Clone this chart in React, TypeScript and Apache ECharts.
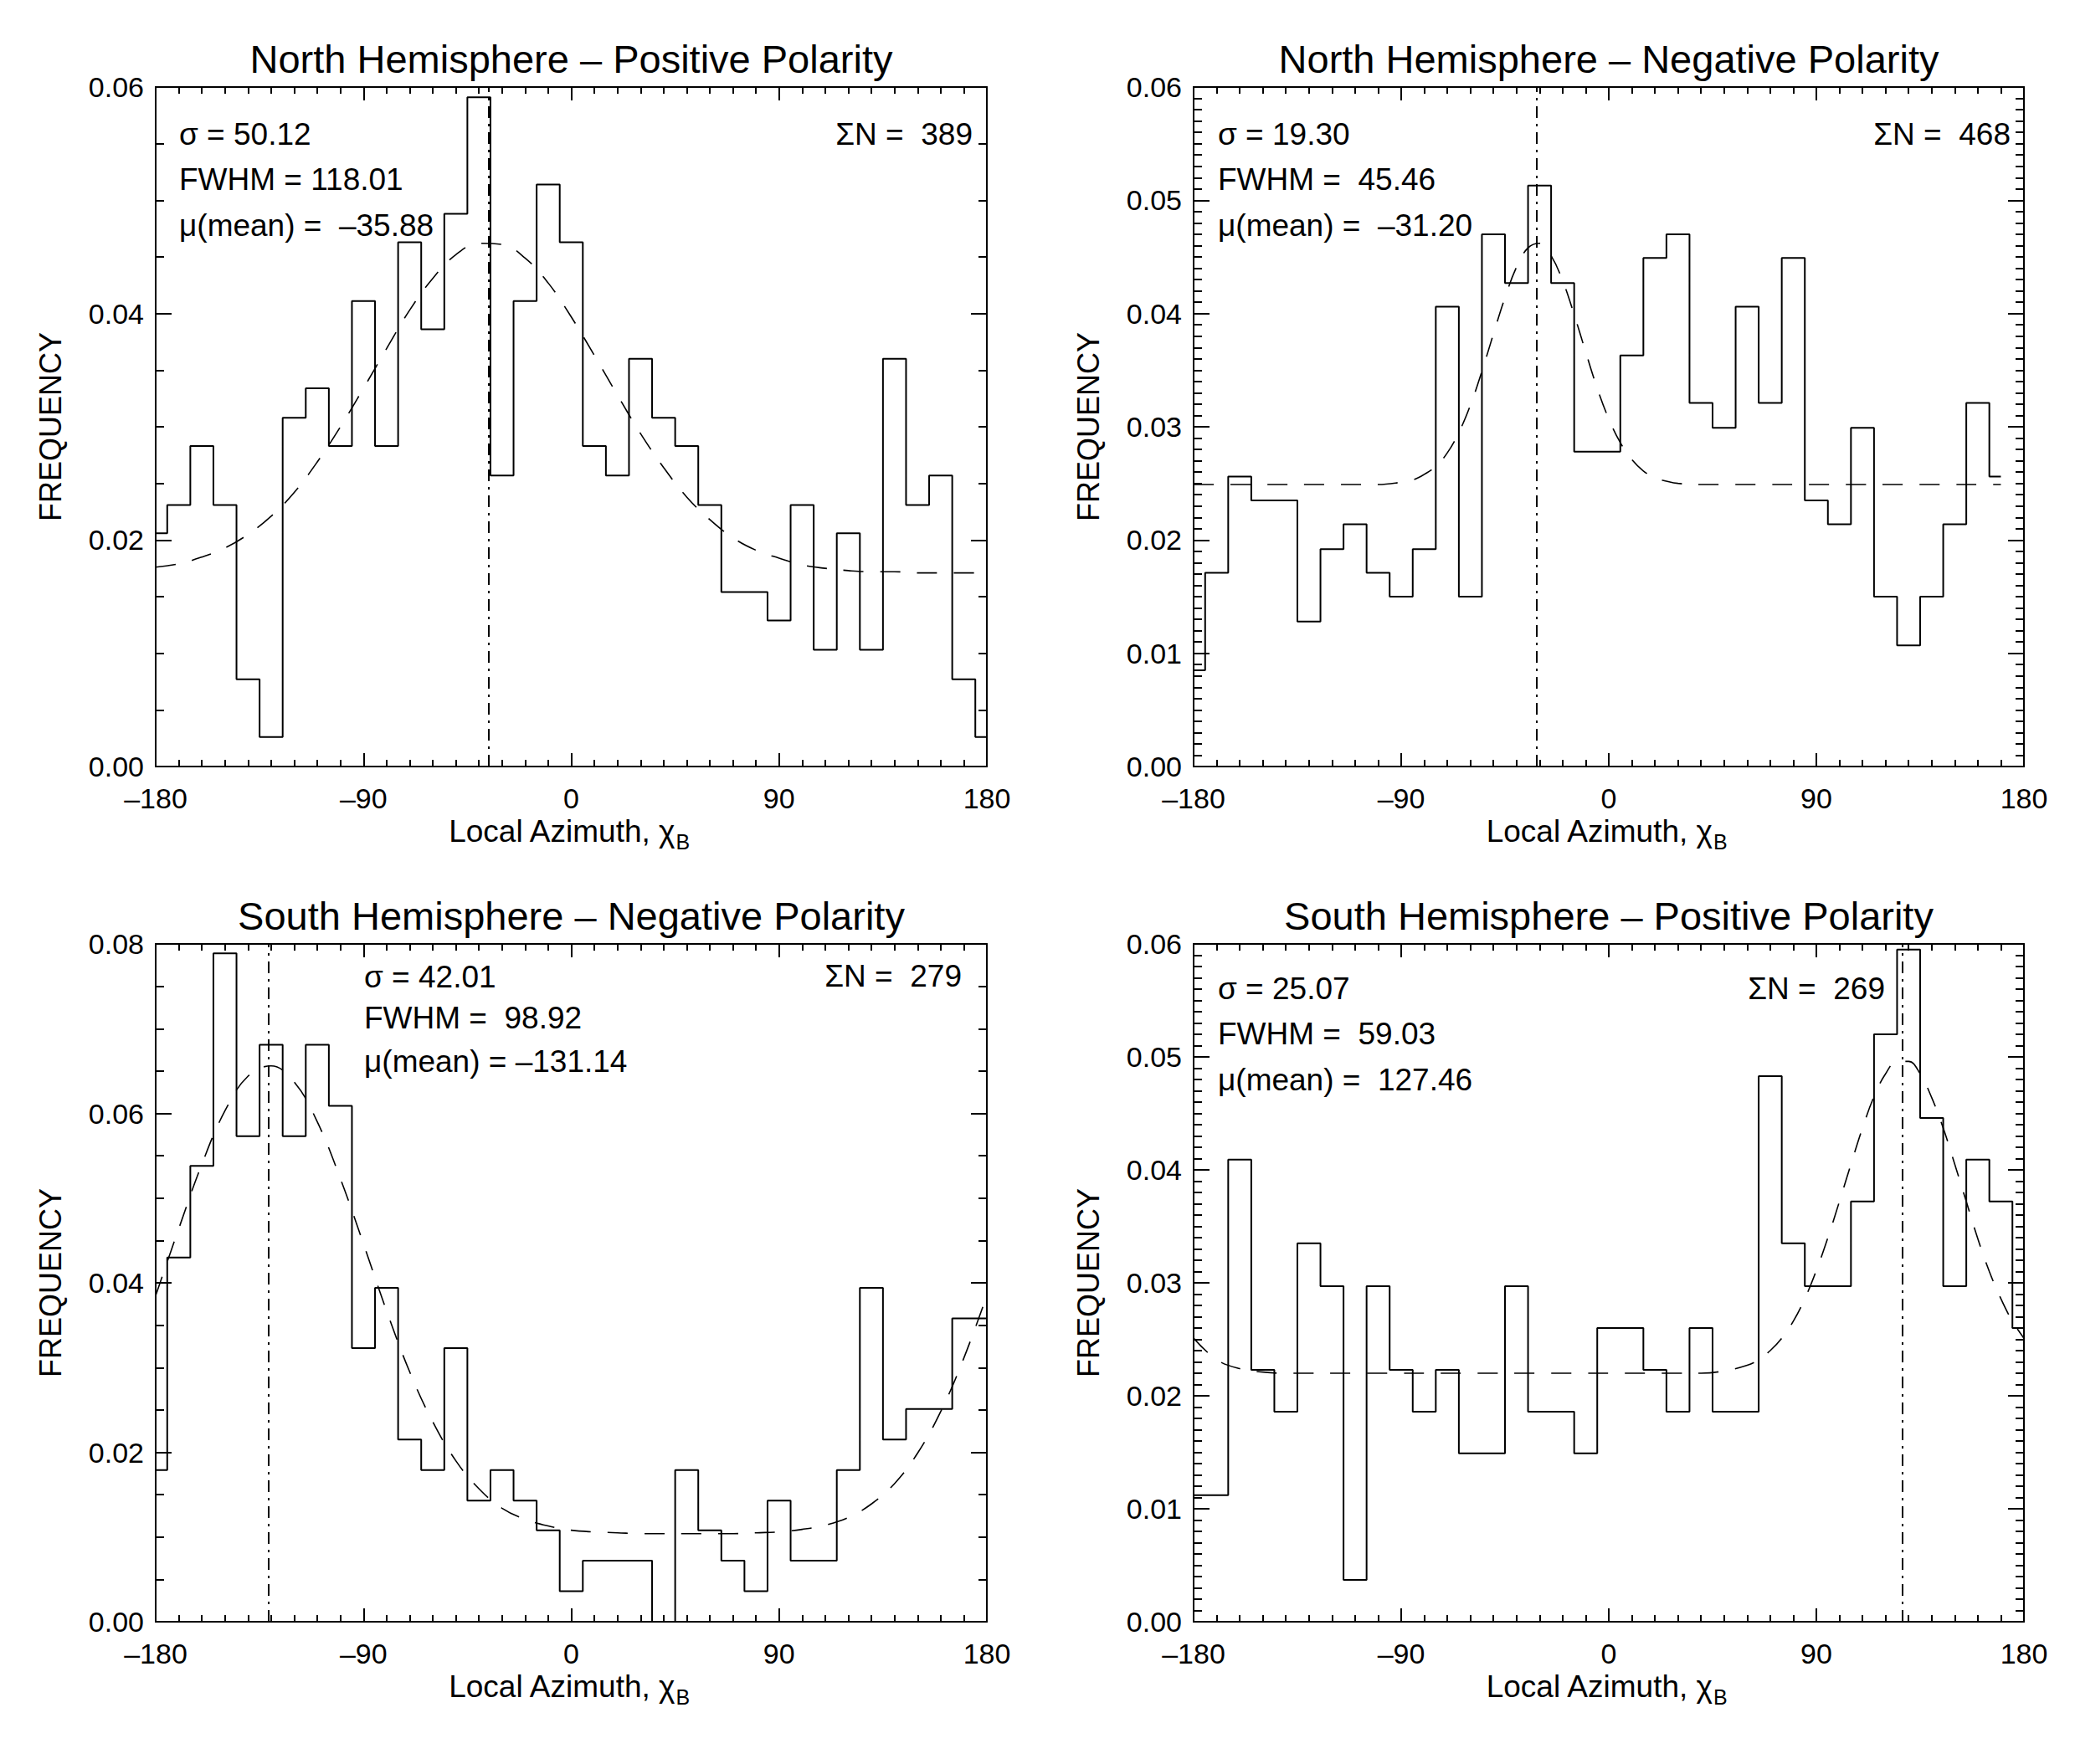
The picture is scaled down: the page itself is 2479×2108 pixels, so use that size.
import React, { useEffect, useRef } from "react";
import * as echarts from "echarts";

// ---------------- DATA ----------------
// histogram bin centres (deg)
const binCenters = [-180,-170,-160,-150,-140,-130,-120,-110,-100,-90,-80,-70,-60,-50,-40,-30,-20,-10,0,10,20,30,40,50,60,70,80,90,100,110,120,130,140,150,160,170,180];
const binCentersNN = [-180,-170,-160,-150,-140,-130,-120,-110,-100,-90,-80,-70,-60,-50,-40,-30,-20,-10,0,10,20,30,40,50,60,70,80,90,100,110,120,130,140,150,160,170];

// frequencies
const freqNP = [0.0206,0.0231,0.0283,0.0231,0.0077,0.0026,0.0308,0.0334,0.0283,0.0411,0.0283,0.0463,0.0386,0.0488,0.0591,0.0257,0.0411,0.0514,0.0463,0.0283,0.0257,0.0360,0.0308,0.0283,0.0231,0.0154,0.0154,0.0129,0.0231,0.0103,0.0206,0.0103,0.0360,0.0231,0.0257,0.0077,0.0026];
const freqNN = [0.0085,0.0171,0.0256,0.0235,0.0235,0.0128,0.0192,0.0214,0.0171,0.0150,0.0192,0.0406,0.0150,0.0470,0.0427,0.0513,0.0427,0.0278,0.0278,0.0363,0.0449,0.0470,0.0321,0.0299,0.0406,0.0321,0.0449,0.0235,0.0214,0.0299,0.0150,0.0107,0.0150,0.0214,0.0321,0.0256];
const freqSN = [0.0179,0.0430,0.0538,0.0789,0.0573,0.0681,0.0573,0.0681,0.0609,0.0323,0.0394,0.0215,0.0179,0.0323,0.0143,0.0179,0.0143,0.0108,0.0036,0.0072,0.0072,0.0072,0,0.0179,0.0108,0.0072,0.0036,0.0143,0.0072,0.0072,0.0179,0.0394,0.0215,0.0251,0.0251,0.0358,0.0358];
const freqSP = [0.0112,0.0112,0.0409,0.0223,0.0186,0.0335,0.0297,0.0037,0.0297,0.0223,0.0186,0.0223,0.0149,0.0149,0.0297,0.0186,0.0186,0.0149,0.0260,0.0260,0.0223,0.0186,0.0260,0.0186,0.0186,0.0483,0.0335,0.0297,0.0297,0.0372,0.0520,0.0595,0.0446,0.0297,0.0409,0.0372,0.0260];

// fitted curves
const fitXNP = [-180,-170,-160,-150,-140,-130,-120,-110,-100,-90,-80,-70,-60,-50,-40,-30,-20,-10,0,10,20,30,40,50,60,70,80,90,100,110,120,130,140,150,160,170,180];
const fitYNP = [0.0176,0.0179,0.0185,0.0193,0.0205,0.0221,0.0242,0.0269,0.0300,0.0334,0.0369,0.0403,0.0431,0.0452,0.0462,0.0461,0.0449,0.0427,0.0397,0.0363,0.0328,0.0294,0.0264,0.0238,0.0218,0.0202,0.0191,0.0184,0.0178,0.0175,0.0173,0.0172,0.0172,0.0171,0.0171,0.0171,0.0171];

const fitXNN = [-180,-170,-160,-150,-140,-130,-120,-110,-100,-90,-85,-80,-75,-70,-65,-60,-55,-50,-45,-40,-35,-30,-25,-20,-15,-10,-5,0,5,10,15,20,25,30,40,50,60,70,80,90,100,110,120,130,140,150,160,170];
const fitYNN = [0.0249,0.0249,0.0249,0.0249,0.0249,0.0249,0.0249,0.0249,0.0249,0.0251,0.0253,0.0258,0.0265,0.0277,0.0295,0.0319,0.0349,0.0382,0.0414,0.0441,0.0458,0.0462,0.0451,0.0429,0.0399,0.0366,0.0334,0.0307,0.0286,0.0271,0.0261,0.0255,0.0252,0.0250,0.0249,0.0249,0.0249,0.0249,0.0249,0.0249,0.0249,0.0249,0.0249,0.0249,0.0249,0.0249,0.0249,0.0249];

const fitXSN = [-180,-170,-160,-150,-140,-130,-120,-110,-100,-90,-80,-70,-60,-50,-40,-30,-20,-10,0,10,20,30,40,50,60,70,80,90,100,110,120,130,140,150,160,170,180];
const fitYSN = [0.0385,0.0464,0.0540,0.0603,0.0644,0.0656,0.0637,0.0590,0.0523,0.0446,0.0367,0.0295,0.0236,0.0190,0.0157,0.0134,0.0121,0.0113,0.0108,0.0106,0.0105,0.0104,0.0104,0.0104,0.0104,0.0104,0.0105,0.0106,0.0109,0.0114,0.0123,0.0139,0.0163,0.0199,0.0248,0.0311,0.0385];

const fitXSP = [-180,-170,-160,-150,-140,-130,-120,-110,-100,-90,-80,-70,-60,-50,-40,-30,-20,-10,0,10,20,30,40,50,60,65,70,75,80,85,90,95,100,105,110,115,120,125,130,135,140,145,150,155,160,165,170,175,180];
const fitYSP = [0.0251,0.0232,0.0224,0.0221,0.0220,0.0220,0.0220,0.0220,0.0220,0.0220,0.0220,0.0220,0.0220,0.0220,0.0220,0.0220,0.0220,0.0220,0.0220,0.0220,0.0220,0.0220,0.0220,0.0222,0.0227,0.0232,0.0240,0.0251,0.0266,0.0286,0.0311,0.0340,0.0372,0.0405,0.0437,0.0465,0.0485,0.0496,0.0496,0.0485,0.0464,0.0437,0.0405,0.0372,0.0339,0.0310,0.0286,0.0266,0.0251];

// fitted means (deg)
const means = [-35.88, -31.20, -131.14, 127.46];

// panel titles and statistics text
const titles = [
  "North Hemisphere \u2013 Positive Polarity",
  "North Hemisphere \u2013 Negative Polarity",
  "South Hemisphere \u2013 Negative Polarity",
  "South Hemisphere \u2013 Positive Polarity",
];
const sigmaText = ["\u03c3 = 50.12", "\u03c3 = 19.30", "\u03c3 = 42.01", "\u03c3 = 25.07"];
const fwhmText = ["FWHM = 118.01", "FWHM =  45.46", "FWHM =  98.92", "FWHM =  59.03"];
const meanText = ["\u03bc(mean) =  \u201335.88", "\u03bc(mean) =  \u201331.20", "\u03bc(mean) = \u2013131.14", "\u03bc(mean) =  127.46"];
const countText = ["\u03a3N =  389", "\u03a3N =  468", "\u03a3N =  279", "\u03a3N =  269"];

// y-axis scales
const yMax = [0.06, 0.06, 0.08, 0.06];
const yInterval = [0.02, 0.01, 0.02, 0.01];
const yMinorSplit = [4, 10, 4, 10];
const xTicks = { min: -180, max: 180, interval: 90, minorSplit: 9 };

// ---------------- LAYOUT ----------------
const FONT = '"Liberation Sans", Arial, Helvetica, sans-serif';
const GRIDS = [
  { left: 186, top: 104, width: 993, height: 812 },
  { left: 1426, top: 104, width: 992, height: 812 },
  { left: 186, top: 1128, width: 993, height: 810 },
  { left: 1426, top: 1128, width: 992, height: 810 },
];
const statY = [
  [160, 214, 269],
  [160, 214, 269],
  [1167, 1216, 1268],
  [1181, 1235, 1290],
];
const statX = [214, 1455, 435, 1455];
const countPos = [
  [1162, 160],
  [2402, 160],
  [1149, 1166],
  [2252, 1181],
];

const fmtX = (v: number) => (v < 0 ? "\u2013" + String(-v) : String(v));
const fmtY = (v: number) => v.toFixed(2);

function buildOption() {
  const grid: any[] = [];
  const xAxis: any[] = [];
  const yAxis: any[] = [];
  const series: any[] = [];
  const graphic: any[] = [];
  const hists = [
    [binCenters, freqNP],
    [binCentersNN, freqNN],
    [binCenters, freqSN],
    [binCenters, freqSP],
  ];
  const fits = [
    [fitXNP, fitYNP],
    [fitXNN, fitYNN],
    [fitXSN, fitYSN],
    [fitXSP, fitYSP],
  ];
  const lineC = { color: "#000", width: 2 };

  for (let i = 0; i < 4; i++) {
    const g = GRIDS[i];
    grid.push({ ...g, containLabel: false, show: false });

    const xBase = {
      type: "value",
      gridIndex: i,
      min: xTicks.min,
      max: xTicks.max,
      interval: xTicks.interval,
      axisLine: { show: true, onZero: false, lineStyle: lineC },
      axisTick: { show: true, inside: true, length: 16, lineStyle: lineC },
      minorTick: { show: true, splitNumber: xTicks.minorSplit, length: 8, lineStyle: lineC },
      splitLine: { show: false },
      minorSplitLine: { show: false },
    };
    xAxis.push({
      ...xBase,
      position: "bottom",
      axisLabel: {
        show: true, margin: 21, fontSize: 34, fontFamily: FONT, color: "#000",
        formatter: fmtX, showMinLabel: true, showMaxLabel: true,
      },
    });
    xAxis.push({ ...xBase, position: "top", axisLabel: { show: false } });

    const yBase = {
      type: "value",
      gridIndex: i,
      min: 0,
      max: yMax[i],
      interval: yInterval[i],
      axisLine: { show: true, onZero: false, lineStyle: lineC },
      axisTick: { show: true, inside: true, length: 19, lineStyle: lineC },
      minorTick: { show: true, splitNumber: yMinorSplit[i], length: 10, lineStyle: lineC },
      splitLine: { show: false },
      minorSplitLine: { show: false },
    };
    yAxis.push({
      ...yBase,
      position: "left",
      axisLabel: {
        show: true, margin: 14, fontSize: 34, fontFamily: FONT, color: "#000",
        formatter: fmtY, showMinLabel: true, showMaxLabel: true,
      },
    });
    yAxis.push({ ...yBase, position: "right", axisLabel: { show: false } });

    const [hx, hy] = hists[i];
    series.push({
      type: "line",
      xAxisIndex: 2 * i,
      yAxisIndex: 2 * i,
      step: "middle",
      symbol: "none",
      data: (hx as number[]).map((x, k) => [x, (hy as number[])[k]]),
      lineStyle: { color: "#000", width: 2 },
      markLine: {
        silent: true,
        symbol: ["none", "none"],
        label: { show: false },
        lineStyle: { color: "#000", width: 2, type: [14, 7, 3, 7] },
        data: [{ xAxis: means[i] }],
      },
    });
    const [fx, fy] = fits[i];
    series.push({
      type: "line",
      xAxisIndex: 2 * i,
      yAxisIndex: 2 * i,
      smooth: 0.4,
      symbol: "none",
      data: (fx as number[]).map((x, k) => [x, (fy as number[])[k]]),
      lineStyle: { color: "#000", width: 1.6, type: [24, 20] },
    });

    const cx = g.left + g.width / 2;
    const cy = g.top + g.height / 2;
    const bottom = g.top + g.height;
    // title
    graphic.push({
      type: "text", x: cx, y: g.top - 34,
      style: { text: titles[i], fontSize: 47, fontFamily: FONT, fill: "#000", align: "center", verticalAlign: "middle" },
    });
    // x axis title with subscript
    graphic.push({
      type: "text", x: cx + 124, y: bottom + 77,
      style: { text: "Local Azimuth, \u03c7", fontSize: 37, fontFamily: FONT, fill: "#000", align: "right", verticalAlign: "middle" },
    });
    graphic.push({
      type: "text", x: cx + 125, y: bottom + 90,
      style: { text: "B", fontSize: 25, fontFamily: FONT, fill: "#000", align: "left", verticalAlign: "middle" },
    });
    // y axis title
    graphic.push({
      type: "text", x: g.left - 126, y: cy, rotation: Math.PI / 2,
      style: { text: "FREQUENCY", fontSize: 36, fontFamily: FONT, fill: "#000", align: "center", verticalAlign: "middle" },
    });
    // statistics
    const rows = [sigmaText[i], fwhmText[i], meanText[i]];
    rows.forEach((t, r) => {
      graphic.push({
        type: "text", x: statX[i], y: statY[i][r],
        style: { text: t, fontSize: 37, fontFamily: FONT, fill: "#000", align: "left", verticalAlign: "middle" },
      });
    });
    graphic.push({
      type: "text", x: countPos[i][0], y: countPos[i][1],
      style: { text: countText[i], fontSize: 37, fontFamily: FONT, fill: "#000", align: "right", verticalAlign: "middle" },
    });
  }

  return {
    animation: false,
    backgroundColor: "#fff",
    grid,
    xAxis,
    yAxis,
    series,
    graphic,
  };
}

export default function App() {
  const ref = useRef<HTMLDivElement>(null);
  useEffect(() => {
    document.body.style.margin = "0";
    if (!ref.current) return;
    const chart = echarts.init(ref.current, undefined, { renderer: "svg" });
    chart.setOption(buildOption() as any);
    return () => chart.dispose();
  }, []);
  return <div ref={ref} style={{ width: 2479, height: 2108, background: "#fff" }} />;
}
